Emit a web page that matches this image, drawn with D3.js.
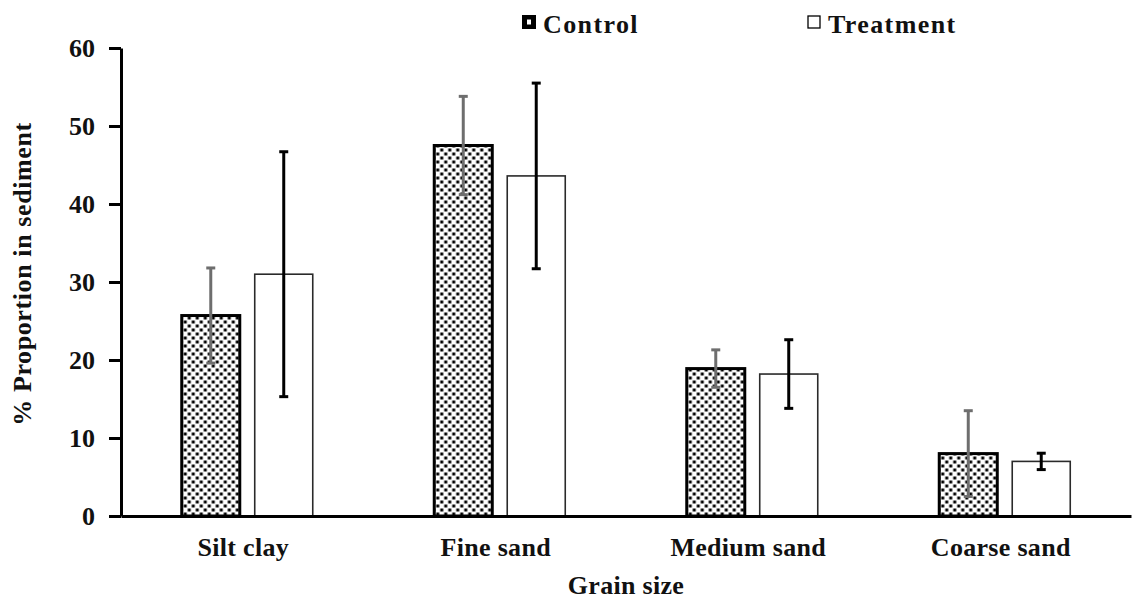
<!DOCTYPE html>
<html>
<head>
<meta charset="utf-8">
<script src="https://cdn.jsdelivr.net/npm/d3@7"></script>
<style>
  html, body { margin: 0; padding: 0; background: #fff; }
  svg { display: block; }
  svg text { font-family: "Liberation Serif", "Times New Roman", Times, serif !important; font-weight: bold; fill: #111; }
</style>
</head>
<body>
<svg id="chart" width="1134" height="600"></svg>
<script>
// Grain-size composition of sediment, control vs treatment (mean ± SD)
const categories = ["Silt clay", "Fine sand", "Medium sand", "Coarse sand"];
const seriesNames = ["Control", "Treatment"];
const controlValues = [25.7, 47.5, 18.9, 8.0];
const controlErrors = [6.1, 6.3, 2.4, 5.5];
const treatmentValues = [31.0, 43.6, 18.2, 7.0];
const treatmentErrors = [15.7, 11.9, 4.4, 1.05];
const yTicks = [0, 10, 20, 30, 40, 50, 60];

const FONT = '"Liberation Serif", "Times New Roman", Times, serif';
const svg = d3.select("#chart");
const margin = { left: 121, right: 3, top: 48, bottom: 84 };
const W = 1134, H = 600;

// dotted fill used by the control bars
const defs = svg.append("defs");
const pat = defs.append("pattern")
  .attr("id", "dots").attr("patternUnits", "userSpaceOnUse")
  .attr("width", 8).attr("height", 8);
pat.append("rect").attr("width", 8).attr("height", 8).attr("fill", "#fff");
pat.append("rect").attr("x", 0.5).attr("y", 0.5).attr("width", 3).attr("height", 3).attr("fill", "#000");
pat.append("rect").attr("x", 4.5).attr("y", 4.5).attr("width", 3).attr("height", 3).attr("fill", "#000");

const y = d3.scaleLinear().domain([0, 60]).range([H - margin.bottom, margin.top]);
const x0 = d3.scaleBand().domain(categories).range([margin.left, W - margin.right]).padding(0);
const groupWidth = 131;
const x1 = d3.scaleBand().domain(seriesNames)
  .range([-groupWidth / 2, groupWidth / 2]).paddingInner(0.205).paddingOuter(0);

const rows = categories.map((c, i) => ({
  cat: c,
  bars: [
    { s: "Control", v: controlValues[i], e: controlErrors[i] },
    { s: "Treatment", v: treatmentValues[i], e: treatmentErrors[i] }
  ]
}));

const styles = {
  Control: { fill: "url(#dots)", stroke: "#000", sw: 3, err: "#6e6e6e" },
  Treatment: { fill: "#fff", stroke: "#2a2a2a", sw: 1.6, err: "#000" }
};

const groups = svg.append("g").selectAll("g").data(rows).join("g")
  .attr("transform", d => `translate(${x0(d.cat) + x0.bandwidth() / 2},0)`);

groups.selectAll("rect.bar").data(d => d.bars).join("rect")
  .attr("class", "bar")
  .attr("x", d => x1(d.s))
  .attr("width", x1.bandwidth())
  .attr("y", d => y(d.v))
  .attr("height", d => y(0) - y(d.v))
  .attr("fill", d => styles[d.s].fill)
  .attr("stroke", d => styles[d.s].stroke)
  .attr("stroke-width", d => styles[d.s].sw);

// error bars
const cap = 4.5;
const eb = groups.selectAll("g.err").data(d => d.bars).join("g").attr("class", "err")
  .attr("stroke", d => styles[d.s].err).attr("stroke-width", 3);
const cx = d => x1(d.s) + x1.bandwidth() / 2;
eb.append("line")
  .attr("x1", cx).attr("x2", cx)
  .attr("y1", d => y(d.v + d.e)).attr("y2", d => y(d.v - d.e));
eb.append("line")
  .attr("x1", d => cx(d) - cap).attr("x2", d => cx(d) + cap)
  .attr("y1", d => y(d.v + d.e)).attr("y2", d => y(d.v + d.e));
eb.append("line")
  .attr("x1", d => cx(d) - cap).attr("x2", d => cx(d) + cap)
  .attr("y1", d => y(d.v - d.e)).attr("y2", d => y(d.v - d.e));

// y axis
const yAxis = svg.append("g").attr("transform", `translate(${margin.left},0)`)
  .call(d3.axisLeft(y).tickValues(yTicks).tickSize(12).tickSizeOuter(0).tickPadding(14));
yAxis.attr("font-family", FONT).attr("font-size", 26);
yAxis.select(".domain").attr("stroke", "#000").attr("stroke-width", 3);
yAxis.selectAll(".tick line").attr("stroke", "#000").attr("stroke-width", 3);
yAxis.selectAll(".tick text").style("font-family", FONT).style("font-size", "26px").attr("fill", "#111");

// x axis
const xAxis = svg.append("g").attr("transform", `translate(0,${y(0)})`)
  .call(d3.axisBottom(x0).tickSize(0).tickSizeOuter(0).tickPadding(22));
xAxis.attr("font-family", FONT).attr("font-size", 26);
xAxis.select(".domain").attr("stroke", "#000").attr("stroke-width", 3);
xAxis.selectAll(".tick text").style("font-family", FONT).style("font-size", "26px")
  .style("letter-spacing", "0.3px").attr("fill", "#111").attr("dx", "-4");

// axis titles
svg.append("text")
  .attr("x", (margin.left + W - margin.right) / 2).attr("y", 594)
  .attr("text-anchor", "middle").style("font-family", FONT).style("font-size", "26px")
  .style("letter-spacing", "0.3px")
  .text("Grain size");
svg.append("text")
  .attr("transform", `translate(31,${(y(0) + y(60)) / 2 - 8}) rotate(-90)`)
  .attr("text-anchor", "middle").style("font-family", FONT).style("font-size", "26px")
  .style("letter-spacing", "0.6px")
  .text("% Proportion in sediment");

// legend
const legend = svg.append("g");
const legendItems = [
  { s: "Control", x: 523 },
  { s: "Treatment", x: 808 }
];
legendItems.forEach(it => {
  legend.append("rect")
    .attr("x", it.x).attr("y", 16).attr("width", 12).attr("height", 12)
    .attr("fill", it.s === "Control" ? "#000" : "#fff").attr("stroke", "#000")
    .attr("stroke-width", it.s === "Control" ? 2 : 1.3);
  if (it.s === "Control") {
    // single light speck inside the tiny dotted swatch
    legend.append("rect").attr("x", it.x + 4).attr("y", 19.5).attr("width", 4).attr("height", 5)
      .attr("fill", "#fff");
  }
  legend.append("text")
    .attr("x", it.x + 20).attr("y", 33)
    .style("font-family", FONT).style("font-size", "26px").style("letter-spacing", "1.4px")
    .text(it.s);
});
</script>
</body>
</html>
